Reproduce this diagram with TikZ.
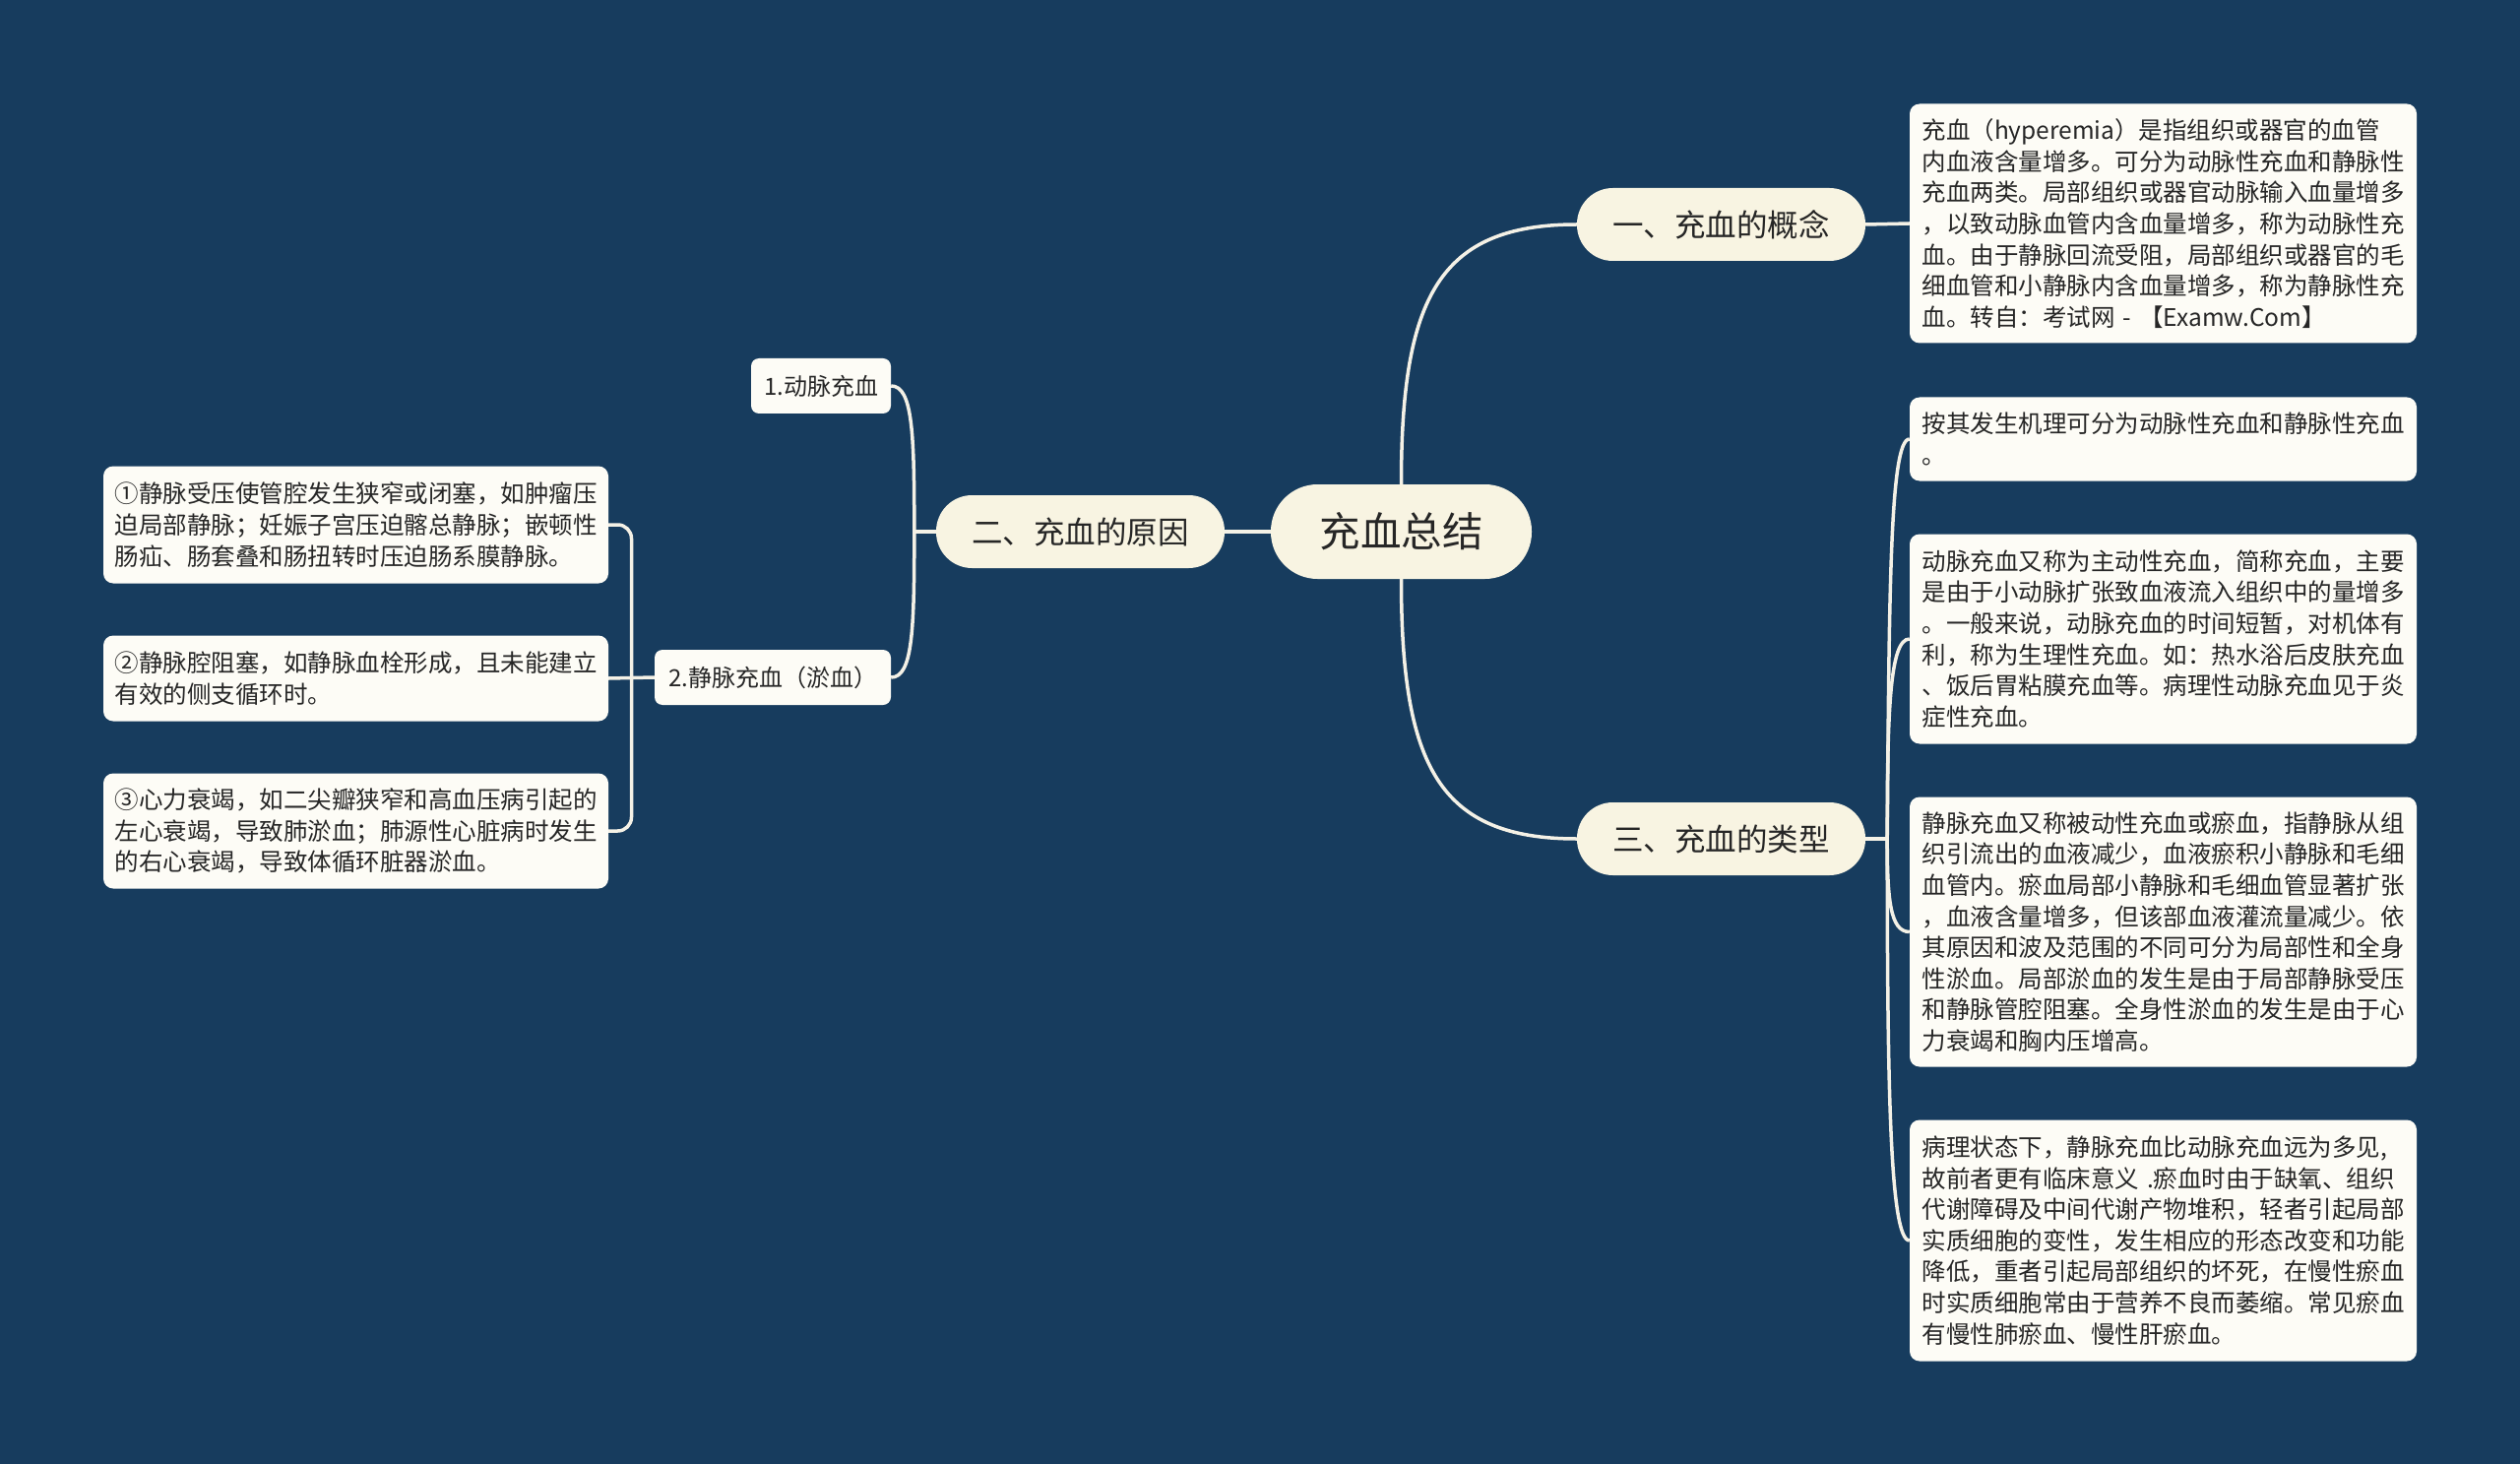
\documentclass[tikz,border=0pt]{standalone}
\usepackage{fontspec}
\setmainfont{Noto Sans CJK SC}
\usetikzlibrary{calc}
\definecolor{bgc}{HTML}{173C5E}
\definecolor{cream}{HTML}{F8F4E2}
\definecolor{paper}{HTML}{FDFCF6}
\definecolor{ink}{HTML}{262626}
\definecolor{wire}{HTML}{F4F1E6}
\pgfdeclarelayer{back}
\pgfsetlayers{back,main}
\begin{document}
\begin{tikzpicture}[x=1pt,y=-1pt,
  conn/.style={draw=wire, line width=3.5pt},
  rootnode/.style={fill=cream, rounded corners=47.5pt, minimum width=265pt, minimum height=96pt, inner sep=0pt, text=ink, font=\fontsize{41.5}{48}\selectfont},
  mainnode/.style={fill=cream, rounded corners=36.5pt, minimum width=293pt, minimum height=74pt, inner sep=0pt, text=ink, font=\fontsize{31.5}{38}\selectfont},
  subnode/.style={fill=paper, rounded corners=8pt, minimum height=56pt, inner sep=0pt, text=ink, font=\fontsize{24}{29}\selectfont},
  infobox/.style={fill=paper, rounded corners=10pt, minimum width=515pt, inner sep=0pt, text=ink, text width=490pt, align=left, font=\fontsize{24.5}{31.6}\selectfont},
]
\useasboundingbox (0,0) rectangle (2560,1487);
\begin{pgfonlayer}{back}
\fill[bgc] (0,0) rectangle (2560,1487);
\end{pgfonlayer}

% central and main topics
\node[rootnode] (root) at (1423.5,540) {充血总结};
\node[mainnode] (t1) at (1748.5,228) {一、充血的概念};
\node[mainnode] (t2) at (1097.5,540) {二、充血的原因};
\node[mainnode] (t3) at (1748.5,852) {三、充血的类型};

% sub topics of t2
\node[subnode, minimum width=142pt] (c1) at (834,392) {1.动脉充血};
\node[subnode, minimum width=240pt] (c2) at (785,688) {2.静脉充血（淤血）};

% left boxes
\node[infobox, minimum width=513pt, minimum height=119pt] (b1) at (361.5,533) {①静脉受压使管腔发生狭窄或闭塞，如肿瘤压\\迫局部静脉；妊娠子宫压迫髂总静脉；嵌顿性\\肠疝、肠套叠和肠扭转时压迫肠系膜静脉。};
\node[infobox, minimum width=513pt, minimum height=87pt] (b2) at (361.5,689) {②静脉腔阻塞，如静脉血栓形成，且未能建立\\有效的侧支循环时。};
\node[infobox, minimum width=513pt, minimum height=117pt] (b3) at (361.5,844) {③心力衰竭，如二尖瓣狭窄和高血压病引起的\\左心衰竭，导致肺淤血；肺源性心脏病时发生\\的右心衰竭，导致体循环脏器淤血。};

% right boxes
\node[infobox, minimum height=243pt] (r1) at (2197.5,227) {充血（hyperemia）是指组织或器官的血管\\内血液含量增多。可分为动脉性充血和静脉性\\充血两类。局部组织或器官动脉输入血量增多\\，以致动脉血管内含血量增多，称为动脉性充\\血。由于静脉回流受阻，局部组织或器官的毛\\细血管和小静脉内含血量增多，称为静脉性充\\血。转自：考试网 - 【Examw.Com】};
\node[infobox, minimum height=85pt] (r2) at (2197.5,446) {按其发生机理可分为动脉性充血和静脉性充血\\。};
\node[infobox, minimum height=213pt] (r3) at (2197.5,649) {动脉充血又称为主动性充血，简称充血，主要\\是由于小动脉扩张致血液流入组织中的量增多\\。一般来说，动脉充血的时间短暂，对机体有\\利，称为生理性充血。如：热水浴后皮肤充血\\、饭后胃粘膜充血等。病理性动脉充血见于炎\\症性充血。};
\node[infobox, minimum height=274pt] (r4) at (2197.5,946.5) {静脉充血又称被动性充血或瘀血，指静脉从组\\织引流出的血液减少，血液瘀积小静脉和毛细\\血管内。瘀血局部小静脉和毛细血管显著扩张\\，血液含量增多，但该部血液灌流量减少。依\\其原因和波及范围的不同可分为局部性和全身\\性淤血。局部淤血的发生是由于局部静脉受压\\和静脉管腔阻塞。全身性淤血的发生是由于心\\力衰竭和胸内压增高。};
\node[infobox, minimum height=245pt] (r5) at (2197.5,1260) {病理状态下，静脉充血比动脉充血远为多见,\\故前者更有临床意义 .瘀血时由于缺氧、组织\\代谢障碍及中间代谢产物堆积，轻者引起局部\\实质细胞的变性，发生相应的形态改变和功能\\降低，重者引起局部组织的坏死，在慢性瘀血\\时实质细胞常由于营养不良而萎缩。常见瘀血\\有慢性肺瘀血、慢性肝瘀血。};

% connectors
\coordinate (s2) at ($(t2.west)+(-22,0)$);
\coordinate (s3) at ($(t3.east)+(22,0)$);
\coordinate (s1) at ($(b2.east)!0.5!(c2.west)$);
\begin{pgfonlayer}{back}
\draw[conn] (root.west) -- (t2.east);
\draw[conn] (root.north) .. controls +(0,-190) and +(-140,0) .. (t1.west);
\draw[conn] (root.south) .. controls +(0,190) and +(-140,0) .. (t3.west);
\draw[conn] (t1.east) -- (r1.west);
\draw[conn] (t3.east) -- (s3);
\draw[conn] (s3) .. controls +(2,-250) and +(-20,0) .. (r2.west);
\draw[conn] (s3) .. controls +(0,-130) and +(-20,0) .. (r3.west);
\draw[conn] (s3) .. controls +(0,60) and +(-20,0) .. (r4.west);
\draw[conn] (s3) .. controls +(0,250) and +(-20,0) .. (r5.west);
\draw[conn] (t2.west) -- (s2);
\draw[conn] (s2) .. controls +(0,-100) and +(22,0) .. (c1.east);
\draw[conn] (s2) .. controls +(0,100) and +(22,0) .. (c2.east);
\draw[conn] (c2.west) -- (b2.east);
\draw[conn, rounded corners=14pt] (b1.east) -| (s1) |- (b3.east);
\end{pgfonlayer}
\end{tikzpicture}
\end{document}
